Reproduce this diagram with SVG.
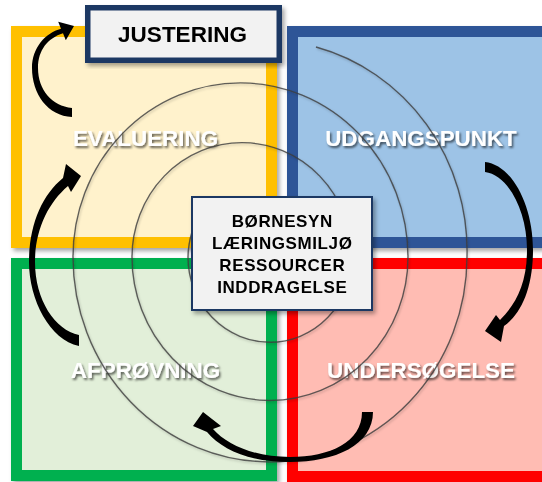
<svg xmlns="http://www.w3.org/2000/svg" width="542" height="482" viewBox="0 0 542 482">
<defs>
<filter id="sh" x="-10%" y="-10%" width="125%" height="125%"><feDropShadow dx="2.5" dy="3" stdDeviation="2" flood-color="#000" flood-opacity="0.35"/></filter>
<filter id="tsh" x="-10%" y="-40%" width="125%" height="180%"><feDropShadow dx="1.5" dy="2" stdDeviation="1.2" flood-color="#000" flood-opacity="0.6"/></filter>
<filter id="lsh" x="-10%" y="-10%" width="120%" height="120%"><feDropShadow dx="1" dy="1.5" stdDeviation="1" flood-color="#000" flood-opacity="0.25"/></filter>
</defs>
<style>
.q{stroke-width:11}
.lbl{font-family:"Liberation Sans",Arial,sans-serif;font-weight:bold;font-size:22.4px;fill:#ffffff;text-anchor:middle}
.box{fill:#f2f2f2;stroke:#1f3864}
.btxt{font-family:"Liberation Sans",Arial,sans-serif;font-weight:bold;fill:#000;text-anchor:middle}
.arr{fill:#000}
.sp{fill:none;stroke:#3c3c3c;stroke-width:1.4;stroke-opacity:0.8}
</style>

<g id="evaluering" filter="url(#sh)">
<rect class="q" x="16.5" y="31.5" width="255" height="211" fill="#fff2cc" stroke="#ffc000"/>
</g>
<g id="udgangspunkt" filter="url(#sh)">
<rect class="q" x="292.5" y="31.5" width="255" height="211" fill="#9dc3e6" stroke="#2f5597"/>
</g>
<g id="afprovning" filter="url(#sh)">
<rect class="q" x="16.5" y="263.5" width="255" height="212" fill="#e2efd9" stroke="#00b050"/>
</g>
<g id="undersogelse" filter="url(#sh)">
<rect class="q" x="292.5" y="263.5" width="255" height="213" fill="#ffbcb3" stroke="#ff0000"/>
</g>

<g id="labels" filter="url(#tsh)">
<text class="lbl" x="145.5" y="145.5">EVALUERING</text>
<text class="lbl" x="421" y="145.5">UDGANGSPUNKT</text>
<text class="lbl" x="145.5" y="377.5">AFPRØVNING</text>
<text class="lbl" x="421" y="378">UNDERSØGELSE</text>
</g>

<g id="spiral" filter="url(#lsh)">
<path class="sp" d="M 316 47 A 203 211 0 0 1 467 257 A 197 205 0 0 1 73 257 A 167.5 174.2 0 0 1 408 257 A 138 143.5 0 0 1 132 257 A 110 114.4 0 0 1 352 257 A 82 85.3 0 0 1 188 257 A 82 85.3 0 0 1 192 232"/>
</g>

<g id="connectors">
<path class="arr" d="M 72 117 C 48 116 32 94 32 68 C 32 48 45 33 61 28.7 L 58.2 21.8 L 74 26 L 65.8 40.2 L 63 33.3 C 48 38 38 50 38 68 C 38 90 52 106 72 108 Z"/>
<path class="arr" d="M 79 346 C 50 340 29 300 29 262 C 29 225 42 195 63 178 L 66 164 L 81 176 L 71 192 L 68 186 C 48 203 35 230 35 262 C 35 300 55 330 79 335 Z"/>
<path class="arr" d="M 485 162 C 512 165 533 205 533 250 C 533 290 520 315 504 326 L 501 342 L 485 331 L 496 315 L 500 320 C 515 305 527 285 527 250 C 527 210 508 175 485 172 Z"/>
<path class="arr" d="M 373 412 C 373 445 335 462 290 462 C 250 462 222 450 207 432 L 193 426 L 203 412 L 221 426 L 213 429 C 227 445 255 457 290 457 C 330 457 362 442 362 412 Z"/>
</g>

<g id="center" filter="url(#sh)">
<rect class="box" x="192" y="197" width="180" height="113" stroke-width="2"/>
<text class="btxt" font-size="17" letter-spacing="0.6" x="282.3" y="226.7">BØRNESYN</text>
<text class="btxt" font-size="17" letter-spacing="0.6" x="282.3" y="248.5">LÆRINGSMILJØ</text>
<text class="btxt" font-size="17" letter-spacing="0.6" x="282.3" y="270.7">RESSOURCER</text>
<text class="btxt" font-size="17" letter-spacing="0.6" x="282.3" y="292.7">INDDRAGELSE</text>
</g>

<g id="justering" filter="url(#sh)">
<rect class="box" x="87.75" y="7.75" width="191.5" height="52.5" stroke-width="5.5"/>
<text class="btxt" font-size="22.5" x="182.5" y="41.5">JUSTERING</text>
</g>
</svg>
